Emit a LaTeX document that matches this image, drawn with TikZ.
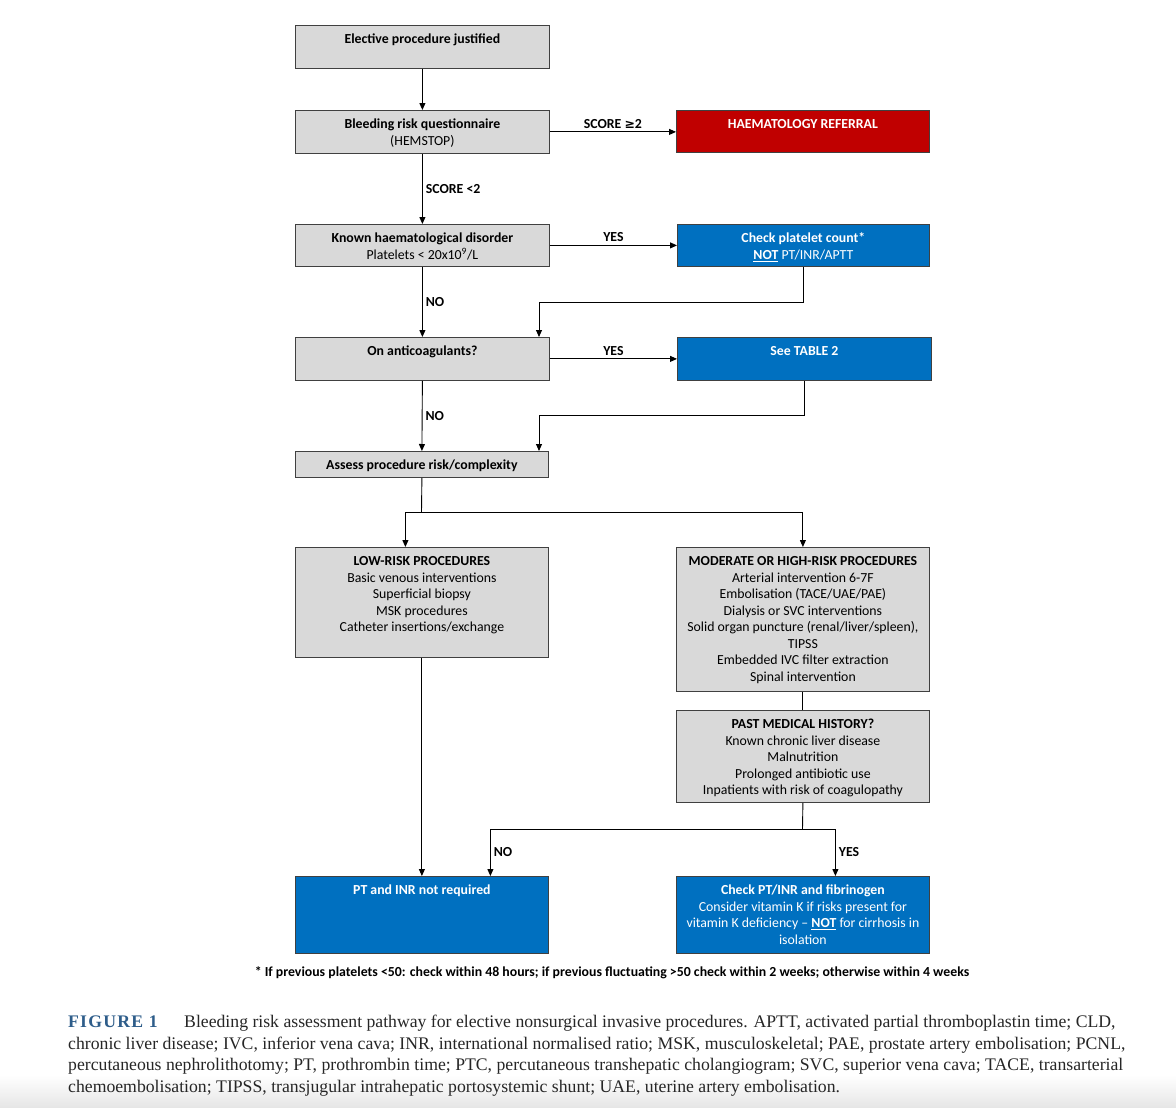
\documentclass[tikz,border=0pt]{standalone}
\usepackage{fontspec}
\setmainfont{Carlito}
\newfontfamily\capfont{Liberation Serif}
\newfontfamily\symfont{DejaVu Sans}
\usetikzlibrary{arrows.meta}
\definecolor{boxgray}{HTML}{D9D9D9}
\definecolor{nhsblue}{HTML}{0070C0}
\definecolor{refred}{HTML}{C00000}
\definecolor{figblue}{HTML}{2E5D8A}
\newcommand\tb[3]{\begin{minipage}[t][#2pt][t]{#1pt}\centering\fontsize{13.8}{16.5}\selectfont\vspace*{7pt}\strut#3\end{minipage}}
\tikzset{
  boxbase/.style={draw=black!75, line width=0.8pt, inner sep=0pt, anchor=north west},
  gbox/.style={boxbase, fill=boxgray, text=black},
  bbox/.style={boxbase, fill=nhsblue, text=white},
  rbox/.style={boxbase, fill=refred, text=white},
  conn/.style={line width=0.9pt, draw=black},
  arr/.style={conn, -{Triangle[length=7pt,width=6pt]}},
  lbl/.style={font=\fontsize{13.8}{16}\selectfont\bfseries, inner sep=3pt},
  capl/.style={anchor=base west, inner sep=0pt, font=\capfont\fontsize{17.7}{21}\selectfont, text=black!85}
}
\begin{document}
\begin{tikzpicture}[x=1pt,y=-1pt]
\useasboundingbox (0,0) rectangle (1176,1108);
\shade[top color=white, bottom color=black!10] (0,1075) rectangle (1176,1108);

% boxes
\node[gbox] (elec) at (295,25) {\tb{254}{43}{\textbf{Elective procedure justified}}};
\node[gbox] (hem) at (295,110) {\tb{254}{43}{\textbf{Bleeding risk questionnaire}\\(HEMSTOP)}};
\node[rbox] (ref) at (676,110) {\tb{253}{42}{\textbf{HAEMATOLOGY REFERRAL}}};
\node[gbox] (known) at (295,224) {\tb{254}{42}{\textbf{Known haematological disorder}\\Platelets < 20x10\textsuperscript{9}/L}};
\node[bbox] (plt) at (677,224) {\tb{252}{42}{\textbf{Check platelet count*}\\\underline{\textbf{NOT}} PT/INR/APTT}};
\node[gbox] (anti) at (295,337) {\tb{254}{43}{\textbf{On anticoagulants?}}};
\node[bbox] (tab) at (677,337) {\tb{254}{43}{\textbf{See TABLE 2}}};
\node[gbox] (assess) at (295,451) {\tb{253}{26}{\textbf{Assess procedure risk/complexity}}};
\node[gbox] (low) at (295,547) {\tb{253}{110}{\textbf{LOW-RISK PROCEDURES}\\Basic venous interventions\\Superficial biopsy\\MSK procedures\\Catheter insertions/exchange}};
\node[gbox] (mod) at (676,547) {\tb{253}{144}{\textbf{MODERATE OR HIGH-RISK PROCEDURES}\\Arterial intervention 6-7F\\Embolisation (TACE/UAE/PAE)\\Dialysis or SVC interventions\\Solid organ puncture (renal/liver/spleen),\\TIPSS\\Embedded IVC filter extraction\\Spinal intervention}};
\node[gbox] (pmh) at (676,710) {\tb{253}{92}{\textbf{PAST MEDICAL HISTORY?}\\Known chronic liver disease\\Malnutrition\\Prolonged antibiotic use\\Inpatients with risk of coagulopathy}};
\node[bbox] (ptno) at (295,876) {\tb{253}{77}{\textbf{PT and INR not required}}};
\node[bbox] (ptyes) at (676,876) {\tb{253}{77}{\textbf{Check PT/INR and fibrinogen}\\Consider vitamin K if risks present for\\vitamin K deficiency -- \underline{\textbf{NOT}} for cirrhosis in\\isolation}};

% junction coordinates
\coordinate (j1) at (539,302);
\coordinate (j2) at (539,415);
\coordinate (sp) at (421.5,512);
\coordinate (sp2) at (802.5,829);

% connectors
\draw[arr] (elec.south) -- (hem.north);
\draw[arr] (hem.east) -- (hem.east -| ref.west) node[lbl, above, midway] {SCORE {\symfont\fontsize{12.5}{14}\selectfont ≥}2};
\draw[arr] (hem.south) -- (known.north) node[lbl, right, midway] {SCORE <2};
\draw[arr] (known.east) -- (known.east -| plt.west) node[lbl, above, midway] {YES};
\draw[arr] (known.south) -- (anti.north) node[lbl, right, midway] {NO};
\draw[arr] (plt.south) |- (j1) -- (j1 |- anti.north);
\draw[arr] (anti.east) -- (anti.east -| tab.west) node[lbl, above, midway] {YES};
\draw[arr] (anti.south) -- (assess.north) node[lbl, right, midway] {NO};
\draw[arr] (tab.south) |- (j2) -- (j2 |- assess.north);
\draw[conn] (assess.south) -- (sp);
\draw[arr] (sp) -| ([xshift=-16.5pt]low.north);
\draw[arr] (sp) -| (mod.north);
\draw[arr] (low.south) -- (ptno.north);
\draw[conn] (mod.south) -- (pmh.north);
\draw[conn] (pmh.south) -- (sp2);
\draw[arr] (sp2) -| ([xshift=68.5pt]ptno.north) node[lbl, right, pos=0.75] {NO};
\draw[arr] (sp2) -| ([xshift=32.5pt]ptyes.north) node[lbl, right, pos=0.75] {YES};

% footnote
\node[font=\fontsize{13.8}{16}\selectfont\bfseries, inner sep=0pt] (fn) at (612,973) {* If previous platelets <50: check within 48 hours; if previous fluctuating >50 check within 2 weeks; otherwise within 4 weeks};

% caption
\node[capl, text=figblue, font=\capfont\fontsize{17.7}{21}\selectfont\bfseries\addfontfeature{LetterSpace=7}] (c0) at (68,1027.5) {FIGURE 1};
\node[capl] (c1) at (184,1027.5) {Bleeding risk assessment pathway for elective nonsurgical invasive procedures. APTT, activated partial thromboplastin time; CLD,};
\node[capl] (c2) at (68,1049) {chronic liver disease; IVC, inferior vena cava; INR, international normalised ratio; MSK, musculoskeletal; PAE, prostate artery embolisation; PCNL,};
\node[capl] (c3) at (68,1070.5) {percutaneous nephrolithotomy; PT, prothrombin time; PTC, percutaneous transhepatic cholangiogram; SVC, superior vena cava; TACE, transarterial};
\node[capl] (c4) at (68,1092) {chemoembolisation; TIPSS, transjugular intrahepatic portosystemic shunt; UAE, uterine artery embolisation.};
\end{tikzpicture}
\end{document}
